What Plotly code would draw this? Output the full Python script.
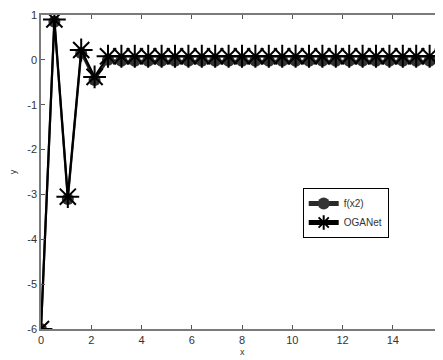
import plotly.graph_objects as go

x_vals = [0, 0.533, 1.067, 1.6, 2.133, 2.667, 3.2, 3.733, 4.267, 4.8, 5.333, 5.867,
          6.4, 6.933, 7.467, 8.0, 8.533, 9.067, 9.6, 10.133, 10.667, 11.2, 11.733,
          12.267, 12.8, 13.333, 13.867, 14.4, 14.933, 15.467, 16.0]
f_x2 = [-6.0, 0.85, -3.1, 0.15, -0.45, 0.0, -0.02, -0.02, -0.02, -0.02, -0.02, -0.02,
        -0.02, -0.02, -0.02, -0.02, -0.02, -0.02, -0.02, -0.02, -0.02, -0.02, -0.02,
        -0.02, -0.02, -0.02, -0.02, -0.02, -0.02, -0.02, -0.02]
oganet = [-6.0, 0.9, -3.05, 0.22, -0.38, 0.08, 0.08, 0.08, 0.08, 0.08, 0.08, 0.08,
          0.08, 0.08, 0.08, 0.08, 0.08, 0.08, 0.08, 0.08, 0.08, 0.08, 0.08,
          0.08, 0.08, 0.08, 0.08, 0.08, 0.08, 0.08, 0.08]
x_ticks = [0, 2, 4, 6, 8, 10, 12, 14]
y_ticks = [1, 0, -1, -2, -3, -4, -5, -6]
edge_tick = 16

FONT = "Liberation Sans, Arial, sans-serif"

fig = go.Figure()
fig.add_trace(go.Scatter(
    x=x_vals, y=f_x2, name="f(x2)", mode="lines+markers",
    line=dict(color="#2a2a2a", width=2.2),
    marker=dict(symbol="circle", size=12, color="#333333"),
))
fig.add_trace(go.Scatter(
    x=x_vals, y=oganet, name="OGANet", mode="lines+markers",
    line=dict(color="#000000", width=2.2),
    marker=dict(symbol="asterisk-open", size=19, line=dict(color="#000000", width=2)),
))

axis_common = dict(
    showline=True, linecolor="#7a7a7a", linewidth=1.5, mirror="ticks",
    ticks="inside", ticklen=4, tickcolor="#555555", tickwidth=1,
    showgrid=False, zeroline=False,
    tickfont=dict(family=FONT, size=11, color="#333333"),
)
fig.update_xaxes(range=[0, 16], tickvals=x_ticks + [edge_tick],
                 ticktext=[str(t) for t in x_ticks] + [""],
                 automargin=False, **axis_common)
fig.update_yaxes(range=[-6, 1], tickvals=y_ticks, ticktext=[str(t) for t in y_ticks],
                 title=dict(text="y", font=dict(size=9, color="#333333"), standoff=14),
                 automargin=False, **axis_common)

fig.add_annotation(x=edge_tick, y=-6, xref="x", yref="y", text=str(edge_tick),
                   showarrow=False, yanchor="top", yshift=-4,
                   font=dict(family=FONT, size=11, color="#333333"))
fig.add_annotation(x=0.5, y=-0.052, xref="paper", yref="paper", text="x",
                   showarrow=False, yanchor="top",
                   font=dict(family=FONT, size=9, color="#333333"))

# The page adds an 8px body margin, so the figure is sized to fill the rest.
fig.update_layout(
    width=435, height=352,
    margin=dict(l=33, r=0, t=7, b=31),
    paper_bgcolor="white", plot_bgcolor="white",
    font=dict(family=FONT, color="#333333"),
    legend=dict(x=0.651, y=0.449, xanchor="left", yanchor="top",
                bgcolor="white", bordercolor="#000000", borderwidth=1,
                font=dict(family=FONT, size=10, color="#333333"),
                itemsizing="constant", tracegroupgap=0),
    showlegend=True,
)

fig.write_html("out.html")
